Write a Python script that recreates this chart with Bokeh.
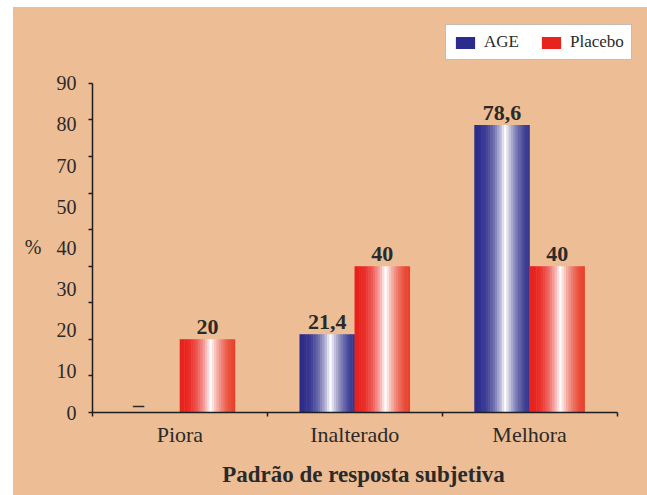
import numpy as np
from bokeh.plotting import figure
from bokeh.layouts import column, row
from bokeh.models import ColumnDataSource, FixedTicker, Legend, LegendItem, Range1d, Spacer
from bokeh.core.properties import value
from bokeh.embed import file_html
from bokeh.resources import INLINE

# ---- data ----
categories = ["Piora", "Inalterado", "Melhora"]
series_names = ["AGE", "Placebo"]
age_values = [0, 21.4, 78.6]
placebo_values = [20, 40, 40]
y_tick_labels = ["0", "10", "20", "30", "40", "50", "70", "80", "90"]
y_tick_marks = [0, 10, 20, 30, 40, 50, 60, 70, 80, 90]
x_title = "Padrão de resposta subjetiva"
y_title = "%"

# ---- style ----
BG = "#EDBD95"
TEXT = "#2a2a2a"
AXIS = "#1e1e1e"
FONT = "Liberation Serif"
N = 24
BAR_W = 0.315
OFFSETS = [-0.1575, 0.1575]
Y_MAX = 90
X_N = len(categories)


def hex2rgb(h):
    return np.array([int(h[i:i + 2], 16) for i in (1, 3, 5)], float)


def gradient(left, right, n, peak=0.56):
    lrgb, rrgb = hex2rgb(left), hex2rgb(right)
    cols = []
    for k in range(n):
        t = (k + 0.5) / n
        if t <= peak:
            m = (t / peak) ** 2.4
            base = lrgb
        else:
            m = ((1 - t) / (1 - peak)) ** 1.7
            base = rrgb
        c = base + (255 - base) * m
        cols.append("#%02x%02x%02x" % tuple(int(round(v)) for v in c))
    return cols


grad = [gradient("#2C2C8C", "#363690", N), gradient("#E8221D", "#E8402C", N)]


def fmt(v):
    return "\u2013" if v == 0 else f"{v:g}".replace(".", ",")


p = figure(width=634, height=488, output_backend="svg", toolbar_location=None,
           x_range=Range1d(0, 3.1), y_range=Range1d(0, 108),
           min_border_left=79, min_border_right=13, min_border_top=10,
           min_border_bottom=83)
p.background_fill_alpha = 0
p.border_fill_alpha = 0
p.styles = {"background-color": BG}
p.outline_line_color = None
p.grid.visible = False

renderers = []
for s, vals in enumerate([age_values, placebo_values]):
    xs, tops, cs = [], [], []
    for i, v in enumerate(vals):
        for k in range(N):
            xs.append(i + 0.5 + OFFSETS[s] - BAR_W / 2 + (k + 0.5) * BAR_W / N)
            tops.append(v)
            cs.append(grad[s][k])
    src = ColumnDataSource(dict(x=xs, top=tops, color=cs))
    r = p.vbar(x="x", top="top", bottom=0, width=BAR_W / N * 1.2,
               fill_color="color", line_color=None, source=src)
    renderers.append(r)

    texts = [fmt(v) for v in vals]
    lab = ColumnDataSource(dict(
        x=[i + 0.5 + OFFSETS[s] for i in range(len(vals))],
        y=vals, text=texts,
        yo=[4 if t == "\u2013" else -5 for t in texts],
        xo=[-14 if t == "\u2013" else 0 for t in texts]))
    p.text(x="x", y="y", text="text", source=lab, text_align="center",
           text_baseline="bottom", y_offset="yo", x_offset="xo",
           text_font=value(FONT),
           text_font_style="bold", text_font_size="22px", text_color=TEXT)

# axes
xa = p.xaxis[0]
xa.bounds = (0, X_N)
xa.ticker = FixedTicker(ticks=[i + 0.5 for i in range(X_N)],
                        minor_ticks=list(range(X_N + 1)))
xa.major_label_overrides = {i + 0.5: c for i, c in enumerate(categories)}
xa.major_label_text_font_size = "22px"
xa.major_label_standoff = 5
xa.axis_label = x_title
xa.axis_label_text_font_style = "bold"
xa.axis_label_text_font_size = "23px"
xa.axis_label_standoff = 12

ya = p.yaxis[0]
ya.bounds = (0, Y_MAX)
label_pos = [i * Y_MAX / (len(y_tick_labels) - 1) for i in range(len(y_tick_labels))]
ya.ticker = FixedTicker(ticks=label_pos, minor_ticks=y_tick_marks)
ya.major_label_overrides = {pos: t for pos, t in zip(label_pos, y_tick_labels)}
ya.major_label_text_font_size = "20px"
ya.major_label_standoff = 12
# blank lines above keep the "%" centred on the 0-90 span, not the whole frame
ya.axis_label = "\n\n\n" + y_title
ya.axis_label_orientation = "horizontal"
ya.axis_label_text_font_style = "normal"
ya.axis_label_text_font_size = "20px"
ya.axis_label_text_line_height = 0.97
ya.axis_label_standoff = 12

for ax in (xa, ya):
    ax.axis_line_color = AXIS
    ax.axis_line_width = 1.5
    ax.major_tick_line_color = None
    ax.major_tick_out = 0
    ax.major_tick_in = 0
    ax.minor_tick_line_color = AXIS
    ax.minor_tick_line_width = 1.5
    ax.minor_tick_in = 0
    ax.minor_tick_out = 4
    ax.major_label_text_font = FONT
    ax.major_label_text_color = TEXT
    ax.axis_label_text_font = FONT
    ax.axis_label_text_color = TEXT

legend = Legend(items=[LegendItem(label=series_names[0], renderers=[renderers[0]], index=0),
                       LegendItem(label=series_names[1], renderers=[renderers[1]], index=0)],
                location=(353, 352), orientation="horizontal")
legend.background_fill_color = "white"
legend.background_fill_alpha = 1
legend.border_line_color = "#8c7c6c"
legend.border_line_width = 1.5
legend.label_text_font = FONT
legend.label_text_font_size = "17px"
legend.label_text_color = TEXT
legend.glyph_width = 24
legend.glyph_height = 15
legend.label_height = 15
legend.label_standoff = 7
legend.spacing = 20
legend.padding = 7
legend.margin = 0
p.add_layout(legend)

layout = column(Spacer(height=7), row(Spacer(width=13), p))
open("out.html", "w").write(file_html(layout, INLINE))
